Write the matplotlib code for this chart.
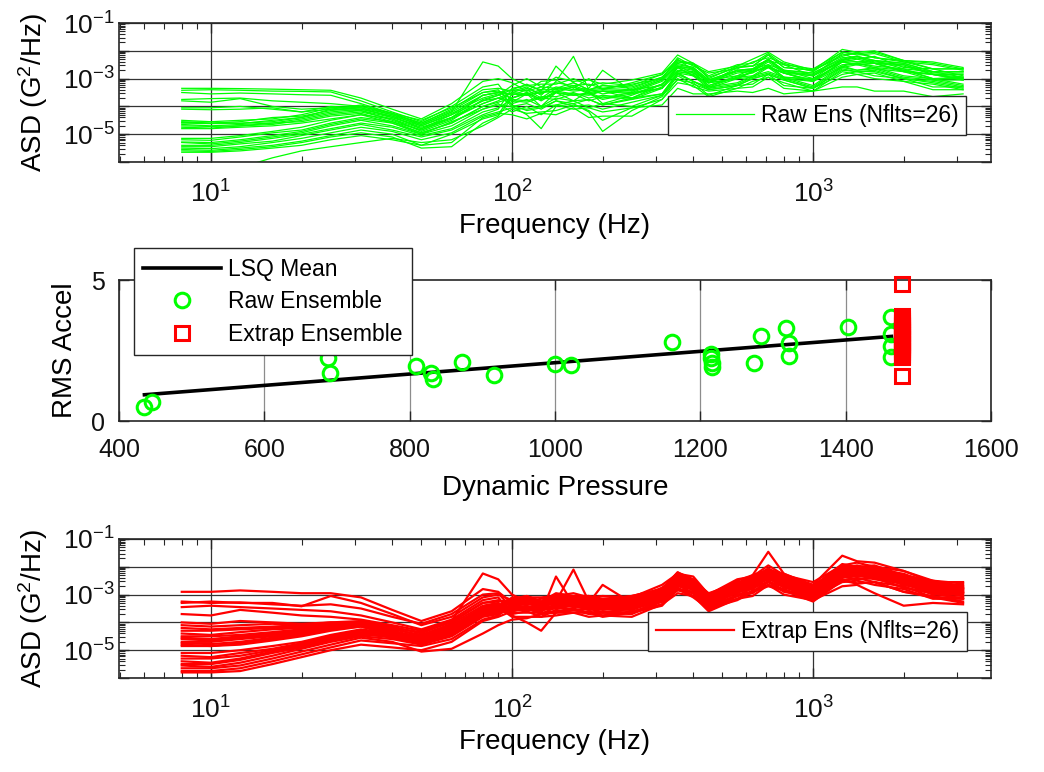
import numpy as np
import matplotlib
matplotlib.use("Agg")
import matplotlib.pyplot as plt
from matplotlib.ticker import FixedLocator, FixedFormatter, LogLocator, NullFormatter

plt.rcParams['font.family'] = ['Liberation Sans', 'DejaVu Sans']
plt.rcParams['mathtext.fontset'] = 'custom'
plt.rcParams['mathtext.rm'] = 'Liberation Sans'
plt.rcParams['mathtext.it'] = 'Liberation Sans:italic'
plt.rcParams['mathtext.bf'] = 'Liberation Sans:bold'
plt.rcParams['mathtext.default'] = 'regular'

# ---------------- data ----------------
freq_hz = [8, 10, 12.5, 16, 20, 25, 31.5, 40, 50, 63, 80, 90,
           100, 112, 125, 140, 160, 180, 200, 250, 315, 355, 400, 450,
           560, 630, 710, 800, 1000, 1250, 1400, 1600, 2000, 2500, 3150]

# log10 of ASD (G^2/Hz), one row per flight -- raw ensemble
raw_log_asd = [
    [-3.35,-3.35,-3.36,-3.38,-3.40,-3.42,-3.70,-4.10,-4.45,-3.90,-3.10,-3.00, -3.15,-3.45,-3.10,-3.05,-3.35,-3.00,-3.40,-3.15,-2.85,-2.30,-2.70,-3.15,-2.60,-2.55,-2.35,-2.50,-2.90,-2.10,-2.30,-2.20,-2.60,-2.65,-2.90],
    [-3.42,-3.40,-3.42,-3.45,-3.46,-3.48,-3.80,-4.20,-4.55,-4.00,-3.30,-3.20, -3.85,-3.55,-4.00,-3.50,-3.80,-3.45,-3.90,-3.60,-3.20,-2.70,-2.75,-3.25,-2.95,-2.75,-2.55,-2.80,-3.05,-2.40,-2.40,-2.45,-2.70,-2.85,-3.00],
    [-3.50,-3.55,-3.52,-3.55,-3.58,-3.60,-3.90,-4.25,-4.60,-4.10,-3.40,-3.35, -3.45,-3.30,-3.60,-3.10,-2.20,-3.40,-3.35,-3.40,-3.00,-2.55,-2.65,-3.15,-2.70,-2.75,-2.30,-2.75,-2.90,-2.35,-2.20,-2.45,-2.50,-2.85,-2.95],
    [-3.75,-3.72,-3.70,-3.80,-3.85,-3.90,-4.00,-4.25,-4.50,-4.05,-3.50,-3.40, -3.95,-4.15,-4.05,-3.80,-4.00,-3.95,-4.10,-3.85,-3.60,-2.85,-3.10,-3.40,-3.25,-3.00,-2.85,-3.05,-3.35,-2.70,-2.75,-2.75,-3.00,-3.15,-3.35],
    [-3.80,-3.85,-3.72,-4.00,-4.10,-4.05,-4.10,-4.35,-4.65,-4.20,-3.60,-3.50, -3.40,-3.20,-3.45,-2.55,-3.15,-3.40,-3.25,-3.30,-2.95,-2.40,-2.45,-3.00,-2.55,-2.55,-2.15,-2.60,-2.70,-2.15,-2.10,-2.25,-2.40,-2.65,-2.65],
    [-4.05,-4.05,-4.00,-4.10,-4.20,-4.00,-4.05,-4.30,-4.70,-4.30,-3.60,-3.50, -3.70,-3.50,-3.75,-3.45,-3.55,-3.60,-3.45,-3.70,-3.20,-2.75,-2.80,-3.25,-2.90,-2.80,-2.50,-2.95,-3.00,-2.50,-2.45,-2.55,-2.65,-3.00,-2.95],
    [-4.10,-4.12,-4.10,-4.05,-4.20,-4.10,-4.15,-4.40,-4.75,-4.40,-3.80,-3.60, -3.25,-3.00,-3.30,-2.95,-3.10,-3.05,-3.20,-3.05,-2.80,-2.15,-2.45,-2.75,-2.55,-2.30,-2.05,-2.40,-2.70,-1.95,-2.05,-2.00,-2.35,-2.40,-2.60],
    [-4.50,-4.55,-4.50,-4.45,-4.30,-4.05,-4.00,-4.30,-4.60,-4.15,-3.50,-3.45, -3.60,-3.40,-3.70,-3.35,-3.45,-3.40,-3.55,-3.40,-3.25,-2.55,-2.80,-3.05,-2.90,-2.65,-2.50,-2.70,-3.00,-2.30,-2.40,-2.35,-2.65,-2.75,-2.95],
    [-4.55,-4.60,-4.55,-4.40,-4.35,-4.15,-4.05,-4.40,-4.70,-4.25,-3.70,-3.55, -4.00,-4.30,-4.80,-4.00,-3.90,-3.75,-3.95,-3.70,-3.55,-2.80,-3.10,-3.30,-3.15,-2.90,-2.75,-2.95,-3.25,-2.55,-2.70,-2.60,-2.90,-3.00,-3.20],
    [-4.60,-4.62,-4.60,-4.55,-4.40,-4.20,-4.10,-4.35,-4.80,-4.30,-3.80,-3.70, -3.50,-3.35,-3.55,-3.30,-3.40,-3.35,-2.70,-3.45,-3.05,-2.45,-2.60,-3.05,-2.70,-2.65,-2.30,-2.70,-2.80,-2.25,-2.20,-2.35,-2.45,-2.75,-2.75],
    [-4.65,-4.70,-4.65,-4.60,-4.45,-4.25,-4.15,-4.50,-4.85,-4.40,-3.90,-3.70, -3.80,-3.85,-3.70,-3.75,-3.55,-3.80,-3.65,-3.75,-3.35,-2.80,-2.90,-3.35,-3.00,-2.95,-2.60,-3.00,-3.10,-2.60,-2.50,-2.65,-2.75,-3.05,-3.05],
    [-4.70,-4.72,-4.70,-4.65,-4.50,-4.30,-4.20,-4.45,-4.90,-4.50,-3.75,-3.60, -3.40,-3.45,-3.30,-3.35,-3.15,-3.40,-3.25,-3.35,-2.95,-2.40,-2.50,-2.95,-2.60,-2.55,-2.15,-2.60,-2.70,-2.20,-2.05,-2.25,-2.35,-2.65,-2.65],
    [-4.75,-4.78,-4.70,-4.60,-4.55,-4.35,-4.25,-4.55,-4.95,-4.60,-4.00,-3.85, -3.70,-3.55,-3.80,-3.50,-3.60,-3.55,-3.75,-3.55,-3.35,-2.60,-2.90,-3.15,-3.00,-2.75,-2.60,-2.80,-3.10,-2.40,-2.50,-2.45,-2.75,-2.85,-3.05],
    [-4.80,-4.80,-4.75,-4.70,-4.60,-4.45,-4.30,-4.60,-5.00,-4.55,-4.10,-3.90, -4.20,-4.00,-4.30,-3.95,-4.10,-4.05,-4.20,-4.05,-3.95,-3.35,-3.55,-3.55,-3.45,-3.50,-3.35,-3.55,-3.45,-3.30,-3.30,-3.45,-3.45,-3.65,-3.55],
    [-4.58,-4.55,-4.62,-4.50,-4.40,-4.10,-3.95,-4.25,-4.65,-4.20,-2.40,-2.55, -3.00,-3.25,-3.20,-3.20,-3.00,-3.25,-3.15,-3.25,-2.85,-2.35,-2.45,-2.90,-2.50,-2.45,-2.10,-2.50,-2.65,-2.05,-2.10,-2.05,-2.35,-2.45,-2.65],
    [-5.15,-5.15,-5.05,-4.90,-4.75,-4.50,-4.30,-4.45,-4.80,-4.40,-3.60,-3.50, -3.55,-3.60,-3.45,-3.50,-3.30,-3.55,-3.45,-3.55,-3.20,-2.60,-2.70,-3.15,-2.80,-2.75,-2.40,-2.80,-2.90,-2.40,-2.30,-2.45,-2.55,-2.85,-2.85],
    [-5.20,-5.22,-5.10,-4.95,-4.85,-4.60,-4.40,-4.55,-4.85,-4.45,-3.90,-3.70, -3.90,-3.75,-4.00,-3.70,-3.80,-3.75,-3.95,-3.75,-3.55,-2.80,-3.10,-3.35,-3.20,-2.95,-2.80,-3.00,-3.30,-2.60,-2.70,-2.65,-2.95,-3.05,-3.25],
    [-5.28,-5.30,-5.20,-5.05,-4.90,-4.65,-4.45,-4.60,-4.95,-4.60,-4.00,-3.80, -3.50,-3.55,-3.40,-3.40,-3.25,-3.45,-3.40,-3.45,-3.05,-2.50,-2.60,-3.05,-2.70,-2.65,-2.30,-2.70,-2.80,-2.30,-2.20,-2.35,-2.45,-2.75,-2.75],
    [-5.30,-5.35,-5.25,-5.10,-4.95,-4.70,-4.50,-4.70,-5.00,-4.70,-4.10,-3.95, -4.00,-3.90,-4.10,-3.80,-3.90,-4.20,-4.90,-4.15,-3.65,-2.90,-3.20,-3.40,-3.25,-3.00,-2.85,-3.05,-3.35,-2.65,-2.75,-2.70,-3.00,-3.10,-3.30],
    [-5.40,-5.40,-5.30,-5.15,-5.00,-4.80,-4.60,-4.75,-5.05,-4.80,-4.20,-4.05, -3.75,-3.80,-3.65,-3.65,-3.50,-3.70,-3.60,-3.70,-3.30,-2.75,-2.85,-3.30,-2.95,-2.90,-2.55,-2.95,-3.05,-2.55,-2.45,-2.60,-2.70,-3.00,-3.00],
    [-5.45,-5.45,-5.35,-5.25,-5.05,-4.85,-4.65,-4.85,-5.10,-4.85,-4.30,-4.10, -3.35,-3.25,-3.40,-3.15,-3.25,-3.20,-3.35,-3.20,-3.00,-2.25,-2.55,-2.80,-2.65,-2.40,-2.25,-2.45,-2.75,-2.05,-2.15,-2.10,-2.40,-2.50,-2.70],
    [-5.50,-5.52,-5.45,-5.30,-5.15,-4.95,-4.75,-4.90,-5.20,-4.95,-4.35,-4.20, -4.05,-4.10,-4.00,-3.95,-3.80,-4.05,-3.90,-4.00,-3.60,-3.05,-3.15,-3.60,-3.25,-3.20,-2.85,-3.25,-3.35,-2.85,-2.75,-2.90,-3.00,-3.30,-3.30],
    [-5.55,-5.58,-5.50,-5.40,-5.25,-5.05,-4.85,-5.00,-5.40,-5.30,-4.40,-4.25, -4.30,-4.45,-4.25,-4.30,-4.05,-4.40,-4.35,-4.35,-3.75,-3.15,-3.25,-3.65,-3.35,-3.30,-2.95,-3.35,-3.45,-2.95,-2.85,-3.00,-3.10,-3.40,-3.40],
    [-5.60,-5.62,-5.55,-5.45,-5.30,-5.10,-4.95,-5.10,-5.50,-5.45,-4.60,-4.35, -3.70,-3.50,-3.75,-3.50,-3.60,-3.50,-3.70,-3.50,-3.35,-2.60,-2.90,-3.15,-3.00,-2.75,-2.60,-2.80,-3.10,-2.40,-2.50,-2.45,-2.75,-2.85,-3.05],
    [-5.65,-5.65,-5.60,-5.50,-5.40,-5.20,-5.05,-5.20,-5.40,-5.00,-4.45,-4.30, -3.55,-3.60,-3.50,-3.45,-3.30,-3.50,-3.45,-3.50,-3.10,-2.55,-2.65,-3.10,-2.75,-2.70,-2.35,-2.75,-2.85,-2.35,-2.25,-2.40,-2.50,-2.80,-2.80],
    [-6.50,-6.40,-6.20,-5.85,-5.60,-5.45,-5.30,-5.15,-5.30,-5.20,-4.70,-4.40, -4.10,-4.25,-4.20,-4.15,-3.95,-4.15,-4.50,-4.05,-3.75,-3.00,-3.30,-3.45,-3.35,-3.10,-2.95,-3.15,-3.45,-2.75,-2.85,-2.80,-3.10,-3.20,-3.40],
]

# log10 of ASD (G^2/Hz), one row per flight -- extrapolated ensemble
extrap_log_asd = [
    [-2.90,-2.90,-2.85,-2.90,-2.95,-2.95,-3.10,-3.55,-3.95,-3.60,-2.80,-2.90, -3.30,-3.15,-3.40,-3.15,-3.25,-3.20,-3.35,-3.20,-2.85,-2.45,-2.55,-3.20,-2.65,-2.55,-2.15,-2.50,-2.75,-2.15,-2.05,-2.20,-2.35,-2.75,-2.75],
    [-3.25,-3.30,-3.28,-3.35,-3.40,-3.35,-3.50,-3.80,-4.05,-3.70,-3.00,-2.95, -3.50,-3.55,-3.45,-3.45,-3.35,-3.55,-3.45,-3.55,-3.15,-2.55,-2.85,-3.30,-2.95,-2.65,-2.45,-2.60,-3.05,-2.25,-2.35,-2.30,-2.65,-2.85,-3.05],
    [-3.30,-3.25,-3.30,-3.30,-3.42,-3.05,-3.30,-3.70,-4.10,-3.80,-3.10,-3.00, -3.20,-3.05,-3.25,-2.95,-3.05,-3.05,-3.15,-3.05,-2.80,-2.20,-2.45,-3.00,-2.50,-2.30,-1.46,-2.25,-2.65,-1.60,-1.80,-1.85,-2.15,-2.50,-2.60],
    [-3.45,-3.40,-3.45,-3.50,-3.55,-3.60,-3.75,-4.00,-4.25,-3.90,-3.20,-3.10, -3.70,-3.60,-3.80,-3.55,-3.65,-3.60,-3.75,-3.60,-3.35,-2.75,-3.05,-3.45,-3.15,-2.85,-2.65,-2.80,-3.20,-2.45,-2.60,-2.55,-2.90,-3.05,-3.25],
    [-3.70,-3.75,-3.55,-3.65,-3.75,-3.80,-3.90,-4.10,-4.30,-3.95,-3.30,-3.20, -3.40,-3.35,-3.35,-3.25,-2.10,-3.25,-3.40,-3.30,-3.05,-2.45,-2.75,-3.20,-2.85,-2.55,-2.35,-2.50,-2.95,-2.15,-2.25,-2.20,-2.55,-2.75,-2.95],
    [-4.00,-4.05,-3.95,-4.00,-4.05,-4.00,-4.05,-4.20,-4.35,-4.00,-3.30,-3.25, -3.20,-3.25,-3.15,-3.15,-3.05,-3.20,-3.15,-3.20,-2.75,-2.35,-2.45,-3.10,-2.55,-2.45,-2.05,-2.40,-2.65,-2.05,-1.95,-2.10,-2.25,-2.65,-2.65],
    [-4.10,-4.15,-4.10,-4.05,-4.10,-4.05,-4.10,-4.25,-4.45,-4.05,-3.40,-3.30, -3.60,-3.45,-3.65,-2.35,-3.35,-3.45,-3.65,-3.50,-3.25,-2.65,-2.95,-3.40,-3.05,-2.75,-2.55,-2.70,-3.15,-2.35,-2.45,-2.40,-2.75,-2.95,-3.15],
    [-4.20,-4.25,-4.20,-4.15,-4.10,-4.00,-3.95,-4.15,-4.40,-3.95,-2.24,-2.45, -3.00,-3.25,-3.35,-3.35,-3.25,-3.40,-3.35,-3.40,-2.95,-2.55,-2.65,-3.30,-2.75,-2.65,-2.25,-2.60,-2.85,-2.25,-2.15,-2.30,-2.45,-2.85,-2.85],
    [-4.30,-4.30,-4.25,-4.20,-4.15,-4.05,-4.00,-4.20,-4.50,-4.10,-3.50,-3.40, -3.30,-3.30,-3.30,-3.25,-3.15,-3.30,-2.65,-3.30,-2.85,-2.45,-2.55,-3.20,-2.65,-2.55,-2.15,-2.50,-2.75,-2.15,-2.05,-2.20,-2.35,-2.75,-2.75],
    [-4.40,-4.45,-4.35,-4.25,-4.20,-4.05,-4.00,-4.30,-4.55,-4.15,-3.45,-3.35, -3.75,-4.00,-4.30,-3.65,-3.65,-3.65,-3.80,-3.65,-3.40,-2.80,-3.10,-3.50,-3.20,-2.90,-2.70,-2.85,-3.25,-2.50,-2.60,-2.55,-2.90,-3.10,-3.30],
    [-4.50,-4.50,-4.45,-4.35,-4.25,-4.10,-4.05,-4.30,-4.60,-4.20,-3.55,-3.45, -3.25,-3.15,-3.35,-3.10,-3.20,-3.15,-3.30,-3.15,-2.90,-2.30,-2.60,-3.05,-2.70,-2.40,-2.20,-2.35,-2.80,-2.00,-2.10,-2.05,-2.40,-2.60,-2.80],
    [-4.55,-4.60,-4.50,-4.40,-4.30,-4.15,-4.05,-4.35,-4.50,-4.20,-3.60,-3.50, -3.45,-3.45,-3.45,-3.40,-3.30,-3.45,-3.40,-3.45,-3.00,-2.60,-2.70,-3.35,-2.80,-2.70,-2.30,-2.65,-2.90,-2.30,-2.20,-2.35,-2.50,-2.90,-2.90],
    [-4.60,-4.65,-4.55,-4.45,-4.35,-4.20,-4.10,-4.35,-4.65,-4.25,-3.50,-3.40, -3.15,-3.05,-3.25,-3.00,-3.10,-3.05,-3.20,-3.05,-2.80,-2.20,-2.50,-2.95,-2.60,-2.30,-2.10,-2.25,-2.70,-1.90,-2.00,-1.95,-2.30,-2.50,-2.70],
    [-4.70,-4.70,-4.60,-4.50,-4.40,-4.20,-4.10,-4.40,-4.60,-4.30,-3.65,-3.55, -3.55,-3.55,-3.55,-3.50,-3.40,-3.55,-3.50,-3.55,-3.10,-2.70,-2.80,-3.45,-2.90,-2.80,-2.40,-2.75,-3.00,-2.40,-2.30,-2.45,-2.60,-3.00,-3.00],
    [-4.75,-4.78,-4.70,-4.55,-4.40,-4.25,-4.15,-4.40,-4.70,-4.35,-3.70,-3.60, -3.35,-3.25,-3.45,-3.20,-3.30,-3.25,-3.40,-3.25,-3.00,-2.40,-2.70,-3.15,-2.80,-2.50,-2.30,-2.45,-2.90,-2.10,-2.20,-2.15,-2.50,-2.70,-2.90],
    [-4.80,-4.85,-4.75,-4.60,-4.45,-4.25,-4.10,-4.35,-4.55,-4.20,-3.55,-3.45, -3.80,-3.80,-3.80,-3.75,-3.65,-3.80,-3.75,-3.80,-3.35,-2.95,-3.05,-3.60,-3.15,-3.05,-2.65,-3.00,-3.20,-2.70,-2.65,-2.95,-3.40,-3.30,-3.35],
    [-4.85,-4.85,-4.80,-4.65,-4.50,-4.30,-4.15,-4.45,-4.60,-4.30,-3.60,-3.50, -3.30,-3.20,-3.40,-3.15,-3.25,-3.20,-3.35,-3.20,-2.95,-2.35,-2.65,-3.10,-2.75,-2.45,-2.25,-2.40,-2.85,-2.05,-2.15,-2.10,-2.45,-2.65,-2.85],
    [-5.10,-5.10,-5.00,-4.85,-4.70,-4.45,-4.25,-4.40,-4.60,-4.25,-3.45,-3.35, -3.50,-3.50,-3.50,-3.45,-3.35,-3.50,-3.45,-3.50,-3.05,-2.65,-2.75,-3.40,-2.85,-2.75,-2.35,-2.70,-2.95,-2.35,-2.25,-2.40,-2.55,-2.95,-2.95],
    [-5.20,-5.25,-5.10,-4.95,-4.75,-4.50,-4.30,-4.45,-4.70,-4.35,-3.65,-3.55, -3.20,-3.10,-3.30,-3.05,-3.15,-3.10,-3.25,-3.10,-2.85,-2.25,-2.55,-3.00,-2.65,-2.35,-2.15,-2.30,-2.75,-1.95,-2.05,-2.00,-2.35,-2.55,-2.75],
    [-5.30,-5.30,-5.20,-5.00,-4.80,-4.55,-4.35,-4.50,-4.65,-4.40,-3.70,-3.60, -3.65,-3.65,-3.65,-3.60,-3.50,-3.65,-3.60,-3.65,-3.20,-2.80,-2.90,-3.50,-3.00,-2.90,-2.50,-2.85,-3.05,-2.50,-2.40,-2.55,-2.70,-3.10,-3.10],
    [-5.40,-5.45,-5.30,-5.05,-4.85,-4.60,-4.40,-4.55,-4.75,-4.45,-3.75,-3.65, -3.40,-3.30,-3.50,-3.25,-3.35,-3.30,-3.45,-3.30,-3.05,-2.45,-2.75,-3.20,-2.85,-2.55,-2.35,-2.50,-2.95,-2.15,-2.25,-2.20,-2.55,-2.75,-2.95],
    [-5.50,-5.50,-5.35,-5.10,-4.90,-4.65,-4.45,-4.50,-4.70,-4.40,-3.60,-3.50, -3.10,-3.10,-3.10,-3.05,-2.95,-3.10,-3.05,-3.10,-2.65,-2.25,-2.35,-3.00,-2.45,-2.35,-1.95,-2.30,-2.55,-1.95,-1.85,-2.00,-2.15,-2.55,-2.55],
    [-5.55,-5.60,-5.45,-5.20,-4.95,-4.70,-4.50,-4.60,-4.80,-4.50,-3.80,-3.70, -3.50,-3.40,-3.60,-3.35,-3.45,-3.40,-3.55,-3.40,-3.15,-2.55,-2.85,-3.30,-2.95,-2.65,-2.45,-2.60,-3.05,-2.25,-2.35,-2.30,-2.65,-2.85,-3.05],
    [-5.65,-5.65,-5.55,-5.30,-5.05,-4.80,-4.55,-4.70,-5.05,-4.95,-4.40,-4.10, -3.90,-3.85,-3.70,-3.65,-3.55,-3.70,-3.65,-3.70,-3.25,-2.85,-2.95,-3.55,-3.05,-2.95,-2.55,-2.90,-3.10,-2.55,-2.50,-2.65,-2.80,-3.15,-3.15],
    [-5.75,-5.75,-5.65,-5.40,-5.15,-4.90,-4.65,-4.75,-4.85,-4.60,-3.90,-3.75, -3.35,-3.35,-3.35,-3.30,-3.20,-3.35,-3.30,-3.35,-2.90,-2.50,-2.60,-3.25,-2.70,-2.60,-2.20,-2.55,-2.80,-2.20,-2.10,-2.25,-2.40,-2.80,-2.80],
    [-5.80,-5.80,-5.75,-5.50,-5.25,-5.00,-4.80,-4.90,-5.00,-4.70,-3.95,-3.80, -3.60,-3.50,-3.70,-3.45,-3.55,-3.50,-3.65,-3.50,-3.25,-2.65,-2.95,-3.40,-3.05,-2.75,-2.55,-2.70,-3.15,-2.35,-2.45,-2.40,-2.75,-2.95,-3.15],
]

# middle panel: RMS accel vs dynamic pressure
raw_pressure = [434.8, 445, 688, 690, 808.7, 830, 832.5, 871.6, 916, 1000, 1021.5, 1160.5,
                1214, 1214, 1216, 1216, 1274, 1283, 1318, 1321.5, 1322, 1402.7, 1463, 1462, 1463, 1463]
raw_rms = [0.51, 0.68, 2.22, 1.69, 1.96, 1.69, 1.49, 2.08, 1.63, 2.02, 2.00, 2.79,
           2.38, 2.22, 2.05, 1.93, 2.07, 3.01, 3.29, 2.75, 2.30, 3.34, 3.70, 3.08, 2.28, 2.65]
extrap_pressure = 1477
extrap_rms = [1.61, 2.27, 4.86, 2.31, 2.38, 2.44, 2.50, 2.55, 2.62, 2.68, 2.73, 2.80, 2.86,
              2.92, 2.99, 3.05, 3.11, 3.17, 3.24, 3.30, 3.36, 3.42, 3.49, 3.55, 3.62, 3.73]
lsq_pressure = [435, 1463]
lsq_rms = [0.93, 3.00]

GREEN = '#00ff00'
RED = '#ff0000'
AXC = '#262626'
TICK_FS = 18
LOG_TICK_FS = 19
LABEL_FS = 20
LEG_FS = 16.5

fig = plt.figure(figsize=(10.44, 7.72), dpi=100)
W, H = 1044, 772
def add_axes(l, t, r, b):
    return fig.add_axes([l / W, 1 - b / H, (r - l) / W, (b - t) / H])

ax1 = add_axes(119, 23, 991, 162)
ax2 = add_axes(119, 280, 991, 421)
ax3 = add_axes(119, 539, 991, 678)

freq = np.array(freq_hz)


def style_asd(ax):
    ax.set_xscale('log')
    ax.set_yscale('log')
    ax.set_xlim(4.95, 3900)
    ax.set_ylim(1e-6, 1e-1)
    ax.xaxis.set_major_locator(FixedLocator([10, 100, 1000]))
    ax.xaxis.set_major_formatter(FixedFormatter(['$10^{1}$', '$10^{2}$', '$10^{3}$']))
    ax.xaxis.set_minor_locator(LogLocator(base=10, subs=np.arange(2, 10), numticks=30))
    ax.xaxis.set_minor_formatter(NullFormatter())
    ax.yaxis.set_major_locator(FixedLocator([1e-6, 1e-5, 1e-4, 1e-3, 1e-2, 1e-1]))
    ax.yaxis.set_major_formatter(FixedFormatter(['', '$10^{-5}$', '', '$10^{-3}$', '', '$10^{-1}$']))
    ax.yaxis.set_minor_locator(LogLocator(base=10, subs=np.arange(2, 10), numticks=30))
    ax.yaxis.set_minor_formatter(NullFormatter())
    ax.grid(True, which='major', color='#333333', linewidth=0.9)
    ax.tick_params(which='both', direction='in', top=True, right=True, color=AXC,
                   labelsize=LOG_TICK_FS, labelcolor='#111111')
    ax.tick_params(which='major', length=7, width=1.0)
    ax.tick_params(which='minor', length=4, width=0.8)
    ax.tick_params(axis='x', which='major', pad=13)
    ax.tick_params(axis='y', which='major', pad=3)
    for s in ax.spines.values():
        s.set_color(AXC)
        s.set_linewidth(1.2)
    ax.set_xlabel('Frequency (Hz)', fontsize=LABEL_FS, va='center')
    ax.xaxis.set_label_coords(0.5, -0.457)
    ax.set_ylabel('ASD (G$^2$/Hz)', fontsize=LABEL_FS, va='center')
    ax.yaxis.set_label_coords(-0.099, 0.5)
    ax.set_axisbelow(True)


# ---- top panel
for i, row in enumerate(raw_log_asd):
    ax1.plot(freq, 10.0 ** np.array(row), color=GREEN, linewidth=0.9,
             label='Raw Ens (Nflts=26)' if i == 0 else None)
style_asd(ax1)
leg1 = ax1.legend(loc='lower left', bbox_to_anchor=(0.6296, 0.194), borderaxespad=0,
                  fontsize=LEG_FS, handlelength=3.4, handletextpad=0.3, borderpad=0.35,
                  fancybox=False, framealpha=1, edgecolor=AXC)
leg1.get_frame().set_linewidth(1.0)

# ---- bottom panel
for i, row in enumerate(extrap_log_asd):
    ax3.plot(freq, 10.0 ** np.array(row), color=RED, linewidth=1.6,
             label='Extrap Ens (Nflts=26)' if i == 0 else None)
style_asd(ax3)
leg3 = ax3.legend(loc='lower left', bbox_to_anchor=(0.6067, 0.194), borderaxespad=0,
                  fontsize=LEG_FS, handlelength=3.4, handletextpad=0.3, borderpad=0.35,
                  fancybox=False, framealpha=1, edgecolor=AXC)
leg3.get_frame().set_linewidth(1.0)

# ---- middle panel
ax2.plot(lsq_pressure, lsq_rms, color='black', linewidth=2.6, label='LSQ Mean', zorder=3)
ax2.plot(raw_pressure, raw_rms, linestyle='none', marker='o', markersize=10.5,
         markerfacecolor='none', markeredgecolor=GREEN, markeredgewidth=2.2,
         label='Raw Ensemble', zorder=4)
ax2.plot(np.full(len(extrap_rms), extrap_pressure), extrap_rms, linestyle='none', marker='s',
         markersize=10, markerfacecolor='none', markeredgecolor=RED, markeredgewidth=2.2,
         label='Extrap Ensemble', zorder=5, clip_on=False)
ax2.set_xlim(400, 1600)
ax2.set_ylim(0, 5)
ax2.set_xticks([400, 600, 800, 1000, 1200, 1400, 1600])
ax2.set_yticks([0, 5])
ax2.grid(True, axis='x', color='#8c8c8c', linewidth=0.9)
ax2.set_axisbelow(True)
ax2.tick_params(which='both', direction='in', top=True, right=True, color=AXC,
                labelsize=TICK_FS, labelcolor='#111111', length=7, width=1.0)
ax2.tick_params(axis='x', pad=12)
ax2.tick_params(axis='y', pad=10)
for s in ax2.spines.values():
    s.set_color(AXC)
    s.set_linewidth(1.2)
ax2.set_xlabel('Dynamic Pressure', fontsize=LABEL_FS, va='center')
ax2.xaxis.set_label_coords(0.5, -0.475)
ax2.set_ylabel('RMS Accel', fontsize=LABEL_FS, va='center')
ax2.yaxis.set_label_coords(-0.062, 0.5)
leg2 = ax2.legend(loc='lower left', bbox_to_anchor=(0.0172, 0.468), borderaxespad=0,
                  fontsize=LEG_FS, handlelength=3.4, handletextpad=0.3, borderpad=0.4,
                  labelspacing=0.42, fancybox=False, framealpha=1, edgecolor=AXC)
leg2.get_frame().set_linewidth(1.0)
leg2.set_zorder(10)

fig.savefig('out.png', dpi=100)
